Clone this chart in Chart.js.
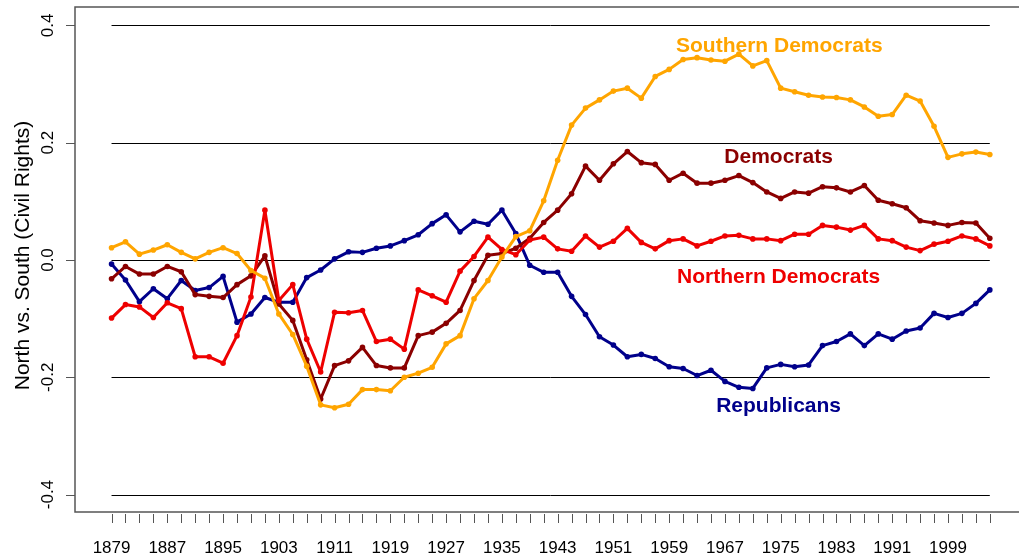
<!DOCTYPE html>
<html>
<head>
<meta charset="utf-8">
<script src="https://cdn.jsdelivr.net/npm/chart.js@4.4.1/dist/chart.umd.min.js"></script>
<style>
    html, body { margin: 0; padding: 0; background: #ffffff; }
    #chart { display: block; }
</style>
</head>
<body>
<canvas id="chart" width="1019" height="557"></canvas>
<script>
// one point per Congress, 1879 .. 2005
const years = [
    1879, 1881, 1883, 1885, 1887, 1889, 1891, 1893, 1895, 1897, 1899, 1901, 1903, 1905, 1907, 1909,
    1911, 1913, 1915, 1917, 1919, 1921, 1923, 1925, 1927, 1929, 1931, 1933, 1935, 1937, 1939, 1941,
    1943, 1945, 1947, 1949, 1951, 1953, 1955, 1957, 1959, 1961, 1963, 1965, 1967, 1969, 1971, 1973,
    1975, 1977, 1979, 1981, 1983, 1985, 1987, 1989, 1991, 1993, 1995, 1997, 1999, 2001, 2003, 2005
];

const southernDems = [
    0.021, 0.031, 0.010, 0.017, 0.026, 0.013, 0.002, 0.013, 0.021, 0.011, -0.018, -0.031, -0.092, -0.127, -0.181, -0.247,
    -0.252, -0.246, -0.221, -0.221, -0.223, -0.200, -0.193, -0.183, -0.143, -0.129, -0.066, -0.035, 0.005, 0.040, 0.050, 0.101,
    0.170, 0.230, 0.259, 0.273, 0.288, 0.293, 0.276, 0.313, 0.325, 0.342, 0.345, 0.341, 0.339, 0.351, 0.331, 0.340,
    0.293, 0.287, 0.281, 0.278, 0.277, 0.273, 0.261, 0.245, 0.248, 0.281, 0.271, 0.228, 0.175, 0.181, 0.184, 0.180
];

const democrats = [
    -0.032, -0.011, -0.024, -0.024, -0.011, -0.020, -0.059, -0.062, -0.064, -0.042, -0.027, 0.007, -0.075, -0.103, -0.170, -0.237,
    -0.180, -0.172, -0.149, -0.180, -0.184, -0.184, -0.129, -0.123, -0.108, -0.086, -0.035, 0.008, 0.011, 0.020, 0.037, 0.064,
    0.085, 0.113, 0.160, 0.136, 0.164, 0.185, 0.166, 0.163, 0.136, 0.148, 0.131, 0.131, 0.136, 0.144, 0.132, 0.116,
    0.105, 0.116, 0.114, 0.125, 0.123, 0.116, 0.127, 0.102, 0.096, 0.089, 0.067, 0.063, 0.059, 0.064, 0.063, 0.037
];

const northernDems = [
    -0.099, -0.076, -0.080, -0.098, -0.073, -0.083, -0.165, -0.165, -0.176, -0.129, -0.063, 0.085, -0.069, -0.042, -0.135, -0.191,
    -0.089, -0.090, -0.086, -0.139, -0.135, -0.152, -0.051, -0.061, -0.072, -0.019, 0.006, 0.039, 0.018, 0.009, 0.034, 0.039,
    0.019, 0.015, 0.041, 0.022, 0.032, 0.054, 0.030, 0.019, 0.033, 0.036, 0.024, 0.032, 0.041, 0.042, 0.036, 0.036,
    0.033, 0.044, 0.044, 0.059, 0.056, 0.051, 0.059, 0.036, 0.033, 0.022, 0.016, 0.027, 0.032, 0.041, 0.036, 0.024
];

const republicans = [
    -0.007, -0.034, -0.071, -0.049, -0.066, -0.035, -0.052, -0.047, -0.028, -0.106, -0.092, -0.064, -0.072, -0.072, -0.030, -0.017,
    0.002, 0.014, 0.013, 0.020, 0.024, 0.033, 0.043, 0.062, 0.077, 0.048, 0.066, 0.061, 0.085, 0.045, -0.009, -0.021,
    -0.021, -0.062, -0.093, -0.131, -0.145, -0.165, -0.161, -0.168, -0.182, -0.185, -0.197, -0.188, -0.207, -0.217, -0.219, -0.184,
    -0.178, -0.182, -0.179, -0.146, -0.139, -0.126, -0.146, -0.126, -0.135, -0.121, -0.116, -0.091, -0.098, -0.091, -0.074, -0.051
];

const xTickLabels = ['1879', '1887', '1895', '1903', '1911', '1919', '1927', '1935', '1943',
                     '1951', '1959', '1967', '1975', '1983', '1991', '1999'];
const yTickValues = [-0.4, -0.2, 0.0, 0.2, 0.4];
const yTickLabels = ['-0.4', '-0.2', '0.0', '0.2', '0.4'];
const yTitle = 'North vs. South (Civil Rights)';

const seriesNames = ['Southern Democrats', 'Democrats', 'Northern Democrats', 'Republicans'];

const COLORS = {
    'Southern Democrats': '#FFA500',
    'Democrats': '#8B0000',
    'Northern Democrats': '#EE0000',
    'Republicans': '#00008B'
};

// where the series names sit, in data units (x = year, y = baseline value)
const labelAt = {
    'Southern Democrats': [1974.8, 0.3546],
    'Democrats': [1974.7, 0.1654],
    'Northern Democrats': [1974.7, -0.0392],
    'Republicans': [1974.7, -0.2587]
};

const FRAME = '#555555';

function toPoints(values) {
    return values.map((v, i) => ({ x: years[i], y: v }));
}

function makeDataset(name, values) {
    return {
        label: name,
        data: toPoints(values),
        borderColor: COLORS[name],
        backgroundColor: COLORS[name],
        borderWidth: 3,
        borderJoinStyle: 'round',
        borderCapStyle: 'round',
        pointRadius: 2.8,
        pointBorderWidth: 0,
        pointBackgroundColor: COLORS[name],
        tension: 0,
        fill: false
    };
}

const rFrame = {
    id: 'rFrame',
    beforeDatasetsDraw(chart) {
        const ctx = chart.ctx;
        const xs = chart.scales.x;
        const ys = chart.scales.y;
        const x0 = xs.getPixelForValue(years[0]);
        const x1 = xs.getPixelForValue(years[years.length - 1]);

        ctx.save();
        // horizontal reference lines
        ctx.strokeStyle = '#000000';
        ctx.lineWidth = 1;
        yTickValues.forEach(v => {
            const y = Math.round(ys.getPixelForValue(v)) + 0.5;
            ctx.beginPath();
            ctx.moveTo(x0, y);
            ctx.lineTo(x1, y);
            ctx.stroke();
        });
        ctx.restore();
    },
    afterDatasetsDraw(chart) {
        const ctx = chart.ctx;
        const a = chart.chartArea;
        const xs = chart.scales.x;
        const ys = chart.scales.y;

        ctx.save();
        // open box: left, top, bottom
        ctx.strokeStyle = FRAME;
        ctx.lineWidth = 1.5;
        ctx.beginPath();
        ctx.moveTo(chart.width, a.top);
        ctx.lineTo(a.left, a.top);
        ctx.lineTo(a.left, a.bottom);
        ctx.lineTo(chart.width, a.bottom);
        ctx.stroke();

        // x tick marks every Congress
        ctx.lineWidth = 1;
        years.forEach(yr => {
            const x = Math.round(xs.getPixelForValue(yr)) + 0.5;
            ctx.beginPath();
            ctx.moveTo(x, a.bottom + 2);
            ctx.lineTo(x, a.bottom + 11);
            ctx.stroke();
        });

        ctx.fillStyle = '#000000';
        ctx.font = '17px "Liberation Sans", Arial, sans-serif';
        ctx.textAlign = 'center';
        ctx.textBaseline = 'alphabetic';
        xTickLabels.forEach(lbl => {
            ctx.fillText(lbl, xs.getPixelForValue(Number(lbl)), a.bottom + 41);
        });

        // y ticks, labels turned like R's las = 0
        ctx.strokeStyle = FRAME;
        yTickValues.forEach((v, i) => {
            const y = Math.round(ys.getPixelForValue(v)) + 0.5;
            ctx.beginPath();
            ctx.moveTo(a.left - 9, y);
            ctx.lineTo(a.left, y);
            ctx.stroke();

            ctx.save();
            ctx.translate(a.left - 22, ys.getPixelForValue(v));
            ctx.rotate(-Math.PI / 2);
            ctx.fillText(yTickLabels[i], 0, 0);
            ctx.restore();
        });

        ctx.save();
        ctx.font = '21px "Liberation Sans", Arial, sans-serif';
        ctx.translate(29, (a.top + a.bottom) / 2 - 4);
        ctx.rotate(-Math.PI / 2);
        ctx.fillText(yTitle, 0, 0);
        ctx.restore();

        // series names
        ctx.font = 'bold 21px "Liberation Sans", Arial, sans-serif';
        seriesNames.forEach(name => {
            const p = labelAt[name];
            ctx.fillStyle = COLORS[name];
            ctx.fillText(name, xs.getPixelForValue(p[0]), ys.getPixelForValue(p[1]));
        });
        ctx.restore();
    }
};

window.onload = function() {
    const ctx = document.getElementById('chart').getContext('2d');
    new Chart(ctx, {
        type: 'line',
        data: {
            datasets: [
                makeDataset('Southern Democrats', southernDems),
                makeDataset('Northern Democrats', northernDems),
                makeDataset('Democrats', democrats),
                makeDataset('Republicans', republicans)
            ]
        },
        options: {
            responsive: false,
            devicePixelRatio: 1,
            animation: false,
            layout: {
                padding: { left: 75, top: 7, right: 0, bottom: 45 }
            },
            scales: {
                x: {
                    type: 'linear',
                    display: false,
                    min: 1873.757,
                    max: 2008.614
                },
                y: {
                    type: 'linear',
                    display: false,
                    min: -0.4297,
                    max: 0.4314
                }
            },
            plugins: {
                legend: { display: false },
                tooltip: { enabled: false }
            }
        },
        plugins: [rFrame]
    });
};
</script>
</body>
</html>
